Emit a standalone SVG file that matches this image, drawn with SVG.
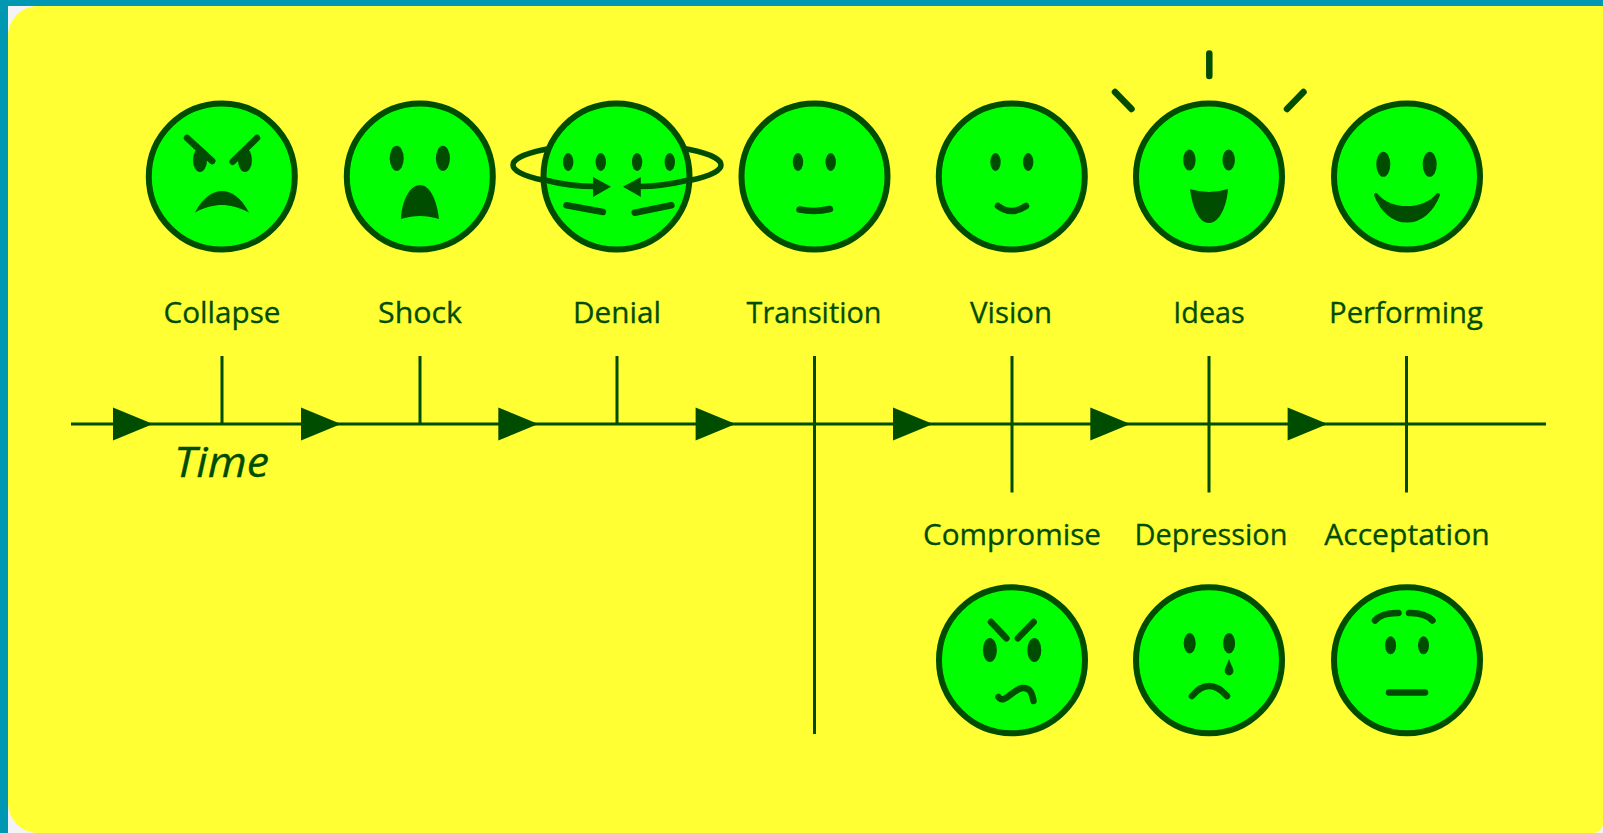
<svg xmlns="http://www.w3.org/2000/svg" width="1603" height="833" viewBox="0 0 1603 833">
<style>
.face{fill:#00ff00;stroke:#004d00;stroke-width:6}
.f{fill:#004d00}
.s{fill:none;stroke:#004d00;stroke-width:6.5;stroke-linecap:round;stroke-linejoin:round}
.ax{fill:none;stroke:#004d00;stroke-width:3}
.l{font-family:"Open Sans","Liberation Sans",sans-serif;font-size:29px;fill:#004d00;stroke:#004d00;stroke-width:.3;text-anchor:middle}
.t{font-family:"Open Sans","Liberation Sans",sans-serif;font-size:42px;font-style:italic;fill:#004d00;stroke:#004d00;stroke-width:.3}
</style>
<defs>
<path id="tri" class="f" d="M0 -16.5L40 0L0 16.5Z"/>
</defs>
<rect width="1603" height="833" fill="#0097b2"/>
<rect x="8" y="6" width="1595" height="827" fill="#f4f4f8"/>
<path fill="#ffff33" d="M38 6H1603V825Q1601 831 1595 833H38A30 30 0 0 1 8 803V36A30 30 0 0 1 38 6Z"/>
<g id="connectors">
<path class="ax" d="M71 424H1546M222 356V424M420 356V424M617 356V424M814.5 356V734M1012 356V492.5M1209 356V492.5M1406.5 356V492.5"/>
<use href="#tri" x="113" y="424"/>
<use href="#tri" x="301" y="424"/>
<use href="#tri" x="498.3" y="424"/>
<use href="#tri" x="695.6" y="424"/>
<use href="#tri" x="893" y="424"/>
<use href="#tri" x="1090.3" y="424"/>
<use href="#tri" x="1287.6" y="424"/>
</g>
<g id="time"><text class="t" x="174" y="477" textLength="95" lengthAdjust="spacingAndGlyphs">Time</text></g>
<g id="collapse">
<circle class="face" cx="221.8" cy="176.5" r="73"/>
<ellipse class="f" cx="200" cy="160" rx="7" ry="12"/><ellipse class="f" cx="245" cy="160" rx="7" ry="12"/>
<path class="s" d="M187 138L212.2 161M257 138L232.7 161.7"/>
<path class="f" d="M195 212.5C203 197 213 191 222 191C231 191 241 197 249 212.5C238 207 230 205 222 205C214 205 205 207 195 212.5Z"/>
<text class="l" x="222" y="323" textLength="117" lengthAdjust="spacingAndGlyphs">Collapse</text>
</g>
<g id="shock">
<circle class="face" cx="419.8" cy="176.5" r="73"/>
<ellipse class="f" cx="396.7" cy="158.3" rx="7" ry="12.5"/><ellipse class="f" cx="442.9" cy="158.3" rx="7" ry="12.5"/>
<path class="f" d="M401 219C402 200 410 185 420 185C430 185 437 200 439 219C426 215 414 215 401 219Z"/>
<text class="l" x="420" y="323" textLength="84" lengthAdjust="spacingAndGlyphs">Shock</text>
</g>
<g id="denial">
<ellipse cx="617" cy="165" rx="104" ry="21.5" fill="none" stroke="#004d00" stroke-width="5.5"/>
<circle class="face" cx="616.5" cy="176.5" r="73"/>
<ellipse class="f" cx="568.2" cy="162" rx="5.2" ry="9"/><ellipse class="f" cx="600.8" cy="162" rx="5.2" ry="9"/><ellipse class="f" cx="637.1" cy="162" rx="5.2" ry="9"/><ellipse class="f" cx="669.8" cy="162" rx="5.2" ry="9"/>
<path class="s" style="stroke-width:5.5;stroke-linecap:butt" d="M545 180C560 184 578 186.5 596 186.5M689 180C672 184 656 186.5 640 186.5"/>
<path class="f" d="M593 177L611 186.7L593 197ZM640.8 177L623 186.7L640.8 197Z"/>
<path class="s" d="M566.5 205.3L602.9 212M634.7 212.7L671.4 205.3"/>
<text class="l" x="617" y="323" textLength="88" lengthAdjust="spacingAndGlyphs">Denial</text>
</g>
<g id="transition">
<circle class="face" cx="814.5" cy="176.5" r="73"/>
<ellipse class="f" cx="798" cy="162" rx="5.2" ry="9"/><ellipse class="f" cx="830.7" cy="162" rx="5.2" ry="9"/>
<path class="s" d="M799.5 209.5Q815 212.5 830 209"/>
<text class="l" x="814" y="323" textLength="135" lengthAdjust="spacingAndGlyphs">Transition</text>
</g>
<g id="vision">
<circle class="face" cx="1011.8" cy="176.5" r="73"/>
<ellipse class="f" cx="995.5" cy="162" rx="5.2" ry="9"/><ellipse class="f" cx="1028.2" cy="162" rx="5.2" ry="9"/>
<path class="s" d="M998 206Q1011 216 1026 206"/>
<text class="l" x="1011" y="323" textLength="82" lengthAdjust="spacingAndGlyphs">Vision</text>
</g>
<g id="ideas">
<circle class="face" cx="1209" cy="176.5" r="73"/>
<ellipse class="f" cx="1189.4" cy="160" rx="6.2" ry="10.5"/><ellipse class="f" cx="1228.7" cy="160" rx="6.2" ry="10.5"/>
<path class="f" d="M1190 189Q1209 195 1228 189C1227 205 1220 223 1209 223C1198 223 1192 205 1190 189Z"/>
<path class="s" d="M1209.3 53.5V76M1115 92L1131.5 109M1303.5 92L1287 109"/>
<text class="l" x="1209" y="323" textLength="71.5" lengthAdjust="spacingAndGlyphs">Ideas</text>
</g>
<g id="performing">
<circle class="face" cx="1407" cy="176.5" r="73"/>
<ellipse class="f" cx="1383.3" cy="164.3" rx="7" ry="12.5"/><ellipse class="f" cx="1429.7" cy="164.3" rx="7" ry="12.5"/>
<path class="f" stroke="#004d00" stroke-width="4" stroke-linejoin="round" d="M1376 195C1382 210 1393 220.5 1407 220.5C1421 220.5 1432 210 1438 195C1432 203 1420 208 1407 208C1394 208 1382 203 1376 195Z"/>
<text class="l" x="1406" y="323" textLength="154" lengthAdjust="spacingAndGlyphs">Performing</text>
</g>
<g id="compromise">
<circle class="face" cx="1012" cy="660.3" r="73"/>
<path class="s" d="M991 622L1006.4 638.3M1033.7 622L1017.9 638.3"/>
<ellipse class="f" cx="989.9" cy="650" rx="7" ry="12"/><ellipse class="f" cx="1034.3" cy="650" rx="7" ry="12"/>
<path class="s" d="M998.5 697C1004 705 1012 690 1022 688C1030 687 1032 693 1033.5 701"/>
<text class="l" x="1012" y="545" textLength="178" lengthAdjust="spacingAndGlyphs">Compromise</text>
</g>
<g id="depression">
<circle class="face" cx="1209" cy="660.3" r="73"/>
<ellipse class="f" cx="1189.7" cy="643.3" rx="6" ry="10.3"/><ellipse class="f" cx="1229.1" cy="643.3" rx="6" ry="10.3"/>
<path class="f" d="M1229 659C1231 665 1233.5 668 1233.5 671A4.4 4.4 0 0 1 1224.7 671C1224.7 668 1227 665 1229 659Z"/>
<path class="s" d="M1192 696Q1209 676 1227 696"/>
<text class="l" x="1211" y="545" textLength="153" lengthAdjust="spacingAndGlyphs">Depression</text>
</g>
<g id="acceptation">
<circle class="face" cx="1407" cy="660.3" r="73"/>
<path class="s" d="M1375 620.5Q1382 612.5 1398.5 613M1409 613Q1425 612.5 1432.5 620.5"/>
<ellipse class="f" cx="1390.6" cy="645.3" rx="5.5" ry="9"/><ellipse class="f" cx="1423.5" cy="645.3" rx="5.5" ry="9"/>
<path class="s" d="M1389 692.5H1425"/>
<text class="l" x="1407" y="545" textLength="165.6" lengthAdjust="spacingAndGlyphs">Acceptation</text>
</g>
</svg>
